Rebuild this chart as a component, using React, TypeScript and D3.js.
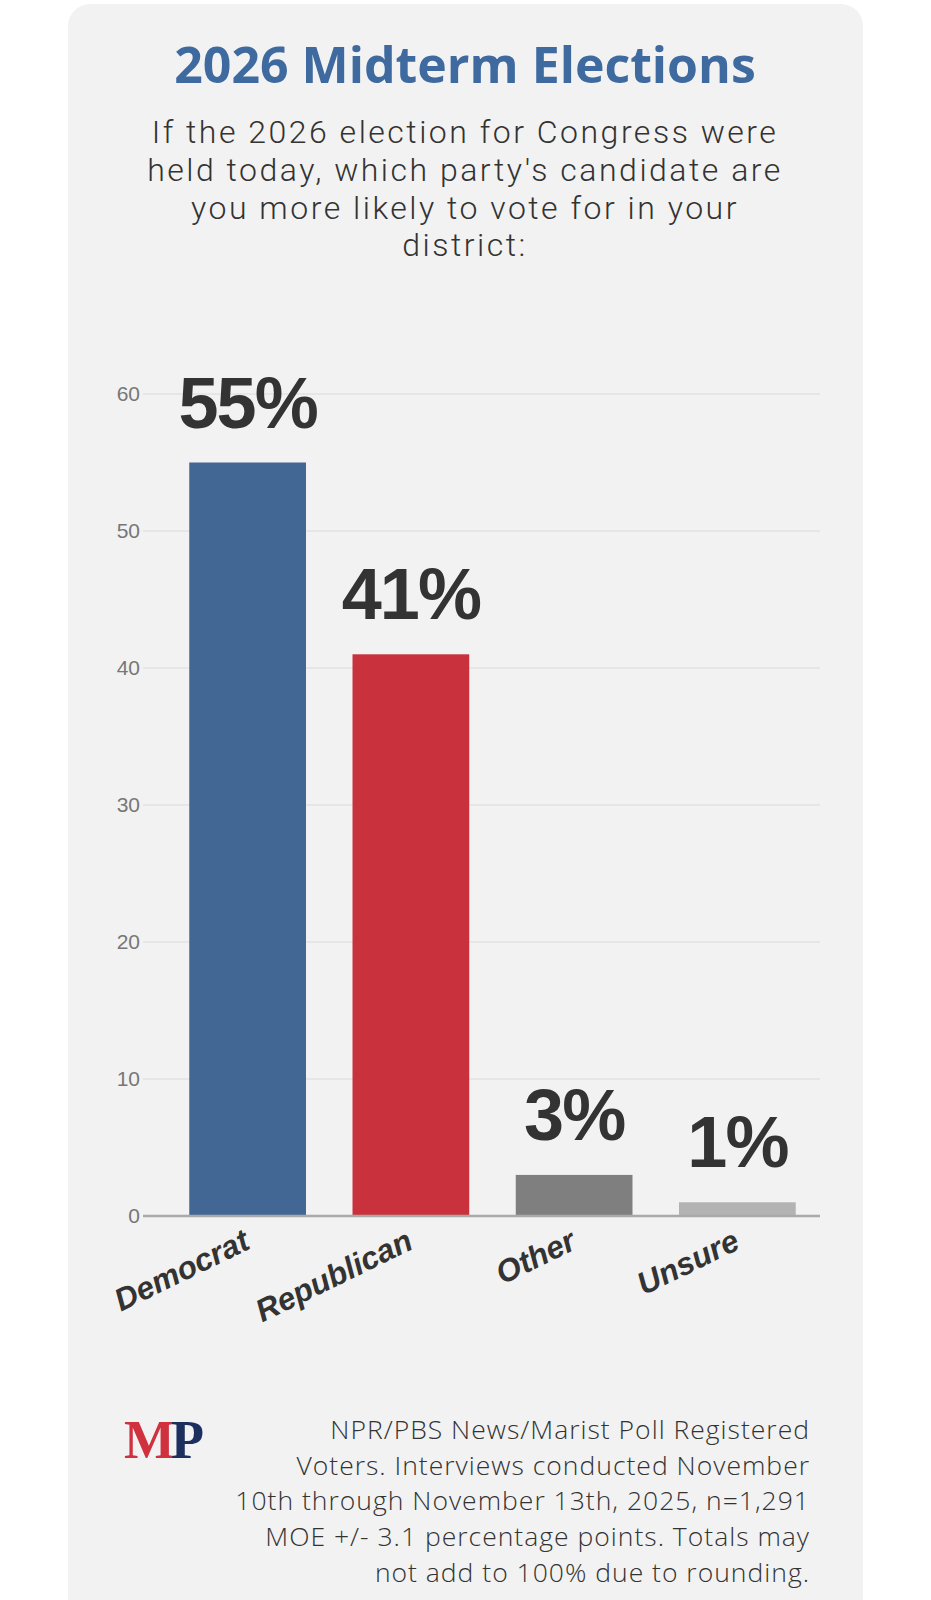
import React from "react";
import * as d3 from "d3";

const categories = ["Democrat", "Republican", "Other", "Unsure"];
const values = [55, 41, 3, 1];
const barColors = ["#436795", "#c9323d", "#7f7f7f", "#b3b3b3"];
const yTicks = [0, 10, 20, 30, 40, 50, 60];
const titleText = "2026 Midterm Elections";
const subtitleLines = [
  "If the 2026 election for Congress were",
  "held today, which party's candidate are",
  "you more likely to vote for in your",
  "district:",
];
const footerLines = [
  "NPR/PBS News/Marist Poll Registered",
  "Voters. Interviews conducted November",
  "10th through November 13th, 2025, n=1,291",
  "MOE +/- 3.1 percentage points. Totals may",
  "not add to 100% due to rounding.",
];

const W = 931;
const H = 1600;
const plotLeft = 143;
const plotRight = 820;

export default function App() {
  const x = d3
    .scaleBand<string>()
    .domain(categories)
    .range([166, 819])
    .paddingInner(0.285)
    .paddingOuter(0.1425);
  const y = d3.scaleLinear().domain([0, 60]).range([1216, 394]);

  const lightFont = "'Open Sans', 'Noto Sans', sans-serif";

  return (
    <svg
      width={W}
      height={H}
      style={{ position: "absolute", left: 0, top: 0, display: "block" }}
    >
      <rect x={0} y={0} width={W} height={H} fill="#ffffff" />
      <rect x={68} y={4} width={795} height={1640} rx={22} fill="#f2f2f2" />

      <text
        x={465}
        y={83}
        textAnchor="middle"
        fontFamily="'Open Sans', sans-serif"
        fontWeight={700}
        fontSize={50}
        fill="#3e6aa0"
      >
        {titleText}
      </text>

      <text
        textAnchor="middle"
        fontFamily="Roboto, 'Open Sans', sans-serif"
        fontWeight={300}
        fontSize={32}
        letterSpacing={2.5}
        fill="#333333"
      >
        {subtitleLines.map((l, i) => (
          <tspan key={i} x={465} y={143 + i * 37.8}>
            {l}
          </tspan>
        ))}
      </text>

      {yTicks.map((t) => (
        <g key={t}>
          {t !== 0 && (
            <line
              x1={plotLeft}
              x2={plotRight}
              y1={y(t)}
              y2={y(t)}
              stroke="#e2e2e2"
              strokeWidth={1.5}
            />
          )}
          <text
            x={140}
            y={y(t)}
            dy="0.35em"
            textAnchor="end"
            fontFamily="'Liberation Sans', Arial, sans-serif"
            fontSize={21}
            fill="#777777"
          >
            {t}
          </text>
        </g>
      ))}

      {categories.map((c, i) => (
        <rect
          key={c}
          x={x(c)}
          y={y(values[i])}
          width={x.bandwidth()}
          height={y(0) - y(values[i])}
          fill={barColors[i]}
        />
      ))}

      <line
        x1={plotLeft}
        x2={plotRight}
        y1={y(0)}
        y2={y(0)}
        stroke="#a9a9a9"
        strokeWidth={2.5}
      />

      {categories.map((c, i) => (
        <text
          key={c}
          x={(x(c) as number) + x.bandwidth() / 2}
          y={y(values[i]) - 35}
          textAnchor="middle"
          fontFamily="'Liberation Sans', Arial, sans-serif"
          fontWeight={700}
          fontSize={72}
          letterSpacing={-2}
          fill="#333333"
        >
          {values[i]}%
        </text>
      ))}

      {categories.map((c) => {
        const cx = (x(c) as number) + x.bandwidth() / 2 + 4;
        const cy = y(0) + 32;
        return (
          <text
            key={c}
            transform={`translate(${cx},${cy}) rotate(-26)`}
            textAnchor="end"
            fontFamily="'Liberation Sans', Arial, sans-serif"
            fontWeight={700}
            fontStyle="italic"
            fontSize={31.5}
            fill="#333333"
          >
            {c}
          </text>
        );
      })}

      <g fontFamily="'Liberation Serif', 'DejaVu Serif', serif" fontWeight={700} fontSize={54}>
        <text x={124} y={1458} fill="#d0313f" letterSpacing={-4}>
          M
          <tspan fill="#1c2f5f">P</tspan>
        </text>
      </g>

      <text
        textAnchor="end"
        fontFamily={lightFont}
        fontWeight={300}
        fontSize={26.5}
        letterSpacing={1}
        fill="#333333"
      >
        {footerLines.map((l, i) => (
          <tspan key={i} x={810} y={1439 + i * 35.7}>
            {l}
          </tspan>
        ))}
      </text>
    </svg>
  );
}
